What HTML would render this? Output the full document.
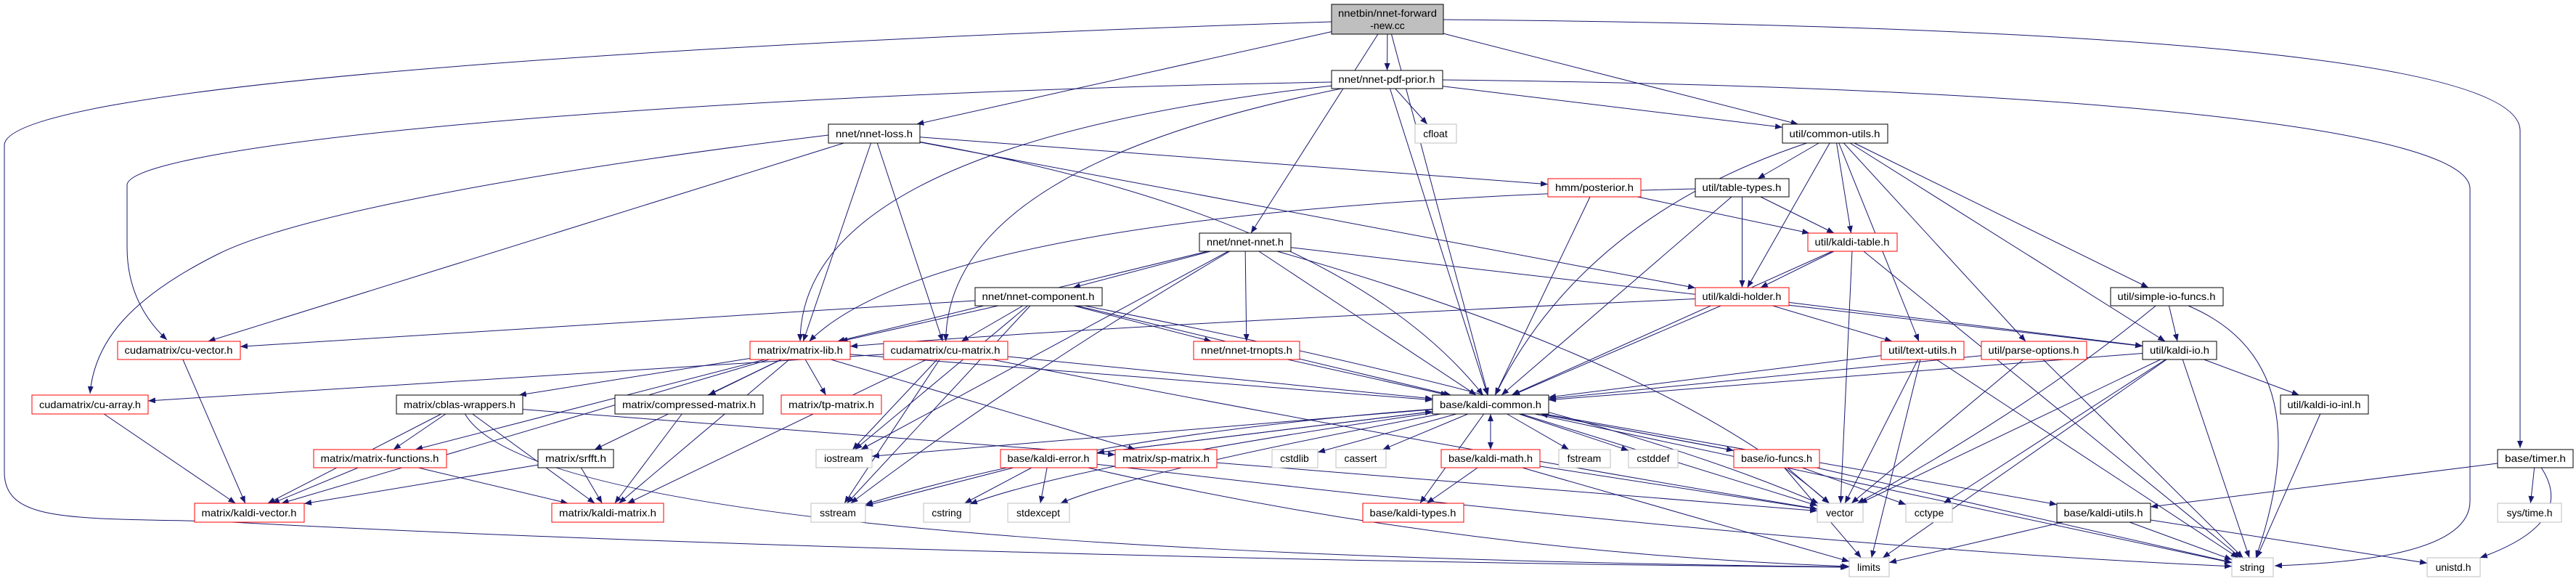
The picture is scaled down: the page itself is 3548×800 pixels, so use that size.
<!DOCTYPE html>
<html><head><meta charset="utf-8"><style>
html,body{margin:0;padding:0;background:#fff;width:3548px;height:800px;overflow:hidden}
svg text{font-family:"Liberation Sans",sans-serif;font-size:14px;fill:#000}
</style></head><body>
<svg id="g" width="3548" height="800" viewBox="0 0 3548 800" xmlns="http://www.w3.org/2000/svg">
<defs><marker id="ah" markerWidth="10" markerHeight="8" refX="10" refY="4" orient="auto" markerUnits="userSpaceOnUse"><path d="M0,0 L10,4 L0,8 z" fill="#191970"/></marker></defs>
<g id="edges" fill="none" stroke="#191970" stroke-width="1"></g>
<g id="nodes">
<rect x="1834" y="6" width="154" height="41" fill="#bfbfbf" stroke="#000"/><text x="1911" y="23" text-anchor="middle" textLength="136" lengthAdjust="spacingAndGlyphs">nnetbin/nnet-forward</text><text x="1911" y="40" text-anchor="middle">-new.cc</text>
<rect x="1834" y="97" width="153" height="25" fill="#fff" stroke="#000"/><text x="1910" y="114" text-anchor="middle" textLength="133" lengthAdjust="spacingAndGlyphs">nnet/nnet-pdf-prior.h</text>
<rect x="1141" y="171" width="126" height="26" fill="#fff" stroke="#000"/><text x="1204" y="189" text-anchor="middle" textLength="106" lengthAdjust="spacingAndGlyphs">nnet/nnet-loss.h</text>
<rect x="1949" y="171" width="57" height="26" fill="#fff" stroke="#bfbfbf"/><text x="1977" y="189" text-anchor="middle">cfloat</text>
<rect x="2455" y="171" width="145" height="26" fill="#fff" stroke="#000"/><text x="2527" y="189" text-anchor="middle" textLength="125" lengthAdjust="spacingAndGlyphs">util/common-utils.h</text>
<rect x="2132" y="246" width="128" height="25" fill="#fff" stroke="#f00"/><text x="2196" y="263" text-anchor="middle" textLength="108" lengthAdjust="spacingAndGlyphs">hmm/posterior.h</text>
<rect x="2335" y="246" width="129" height="25" fill="#fff" stroke="#000"/><text x="2399" y="263" text-anchor="middle" textLength="109" lengthAdjust="spacingAndGlyphs">util/table-types.h</text>
<rect x="1652" y="321" width="126" height="25" fill="#fff" stroke="#000"/><text x="1715" y="338" text-anchor="middle" textLength="106" lengthAdjust="spacingAndGlyphs">nnet/nnet-nnet.h</text>
<rect x="2490" y="321" width="123" height="25" fill="#fff" stroke="#f00"/><text x="2551" y="338" text-anchor="middle" textLength="103" lengthAdjust="spacingAndGlyphs">util/kaldi-table.h</text>
<rect x="1343" y="396" width="175" height="25" fill="#fff" stroke="#000"/><text x="1430" y="413" text-anchor="middle" textLength="155" lengthAdjust="spacingAndGlyphs">nnet/nnet-component.h</text>
<rect x="2335" y="396" width="129" height="25" fill="#fff" stroke="#f00"/><text x="2399" y="413" text-anchor="middle" textLength="109" lengthAdjust="spacingAndGlyphs">util/kaldi-holder.h</text>
<rect x="2907" y="396" width="155" height="25" fill="#fff" stroke="#000"/><text x="2984" y="413" text-anchor="middle" textLength="135" lengthAdjust="spacingAndGlyphs">util/simple-io-funcs.h</text>
<rect x="1033" y="470" width="138" height="25" fill="#fff" stroke="#f00"/><text x="1102" y="487" text-anchor="middle" textLength="118" lengthAdjust="spacingAndGlyphs">matrix/matrix-lib.h</text>
<rect x="162" y="470" width="169" height="25" fill="#fff" stroke="#f00"/><text x="246" y="487" text-anchor="middle" textLength="149" lengthAdjust="spacingAndGlyphs">cudamatrix/cu-vector.h</text>
<rect x="1217" y="470" width="171" height="25" fill="#fff" stroke="#f00"/><text x="1302" y="487" text-anchor="middle" textLength="151" lengthAdjust="spacingAndGlyphs">cudamatrix/cu-matrix.h</text>
<rect x="1644" y="470" width="146" height="25" fill="#fff" stroke="#f00"/><text x="1717" y="487" text-anchor="middle" textLength="126" lengthAdjust="spacingAndGlyphs">nnet/nnet-trnopts.h</text>
<rect x="2591" y="470" width="114" height="25" fill="#fff" stroke="#f00"/><text x="2648" y="487" text-anchor="middle" textLength="94" lengthAdjust="spacingAndGlyphs">util/text-utils.h</text>
<rect x="2729" y="470" width="145" height="25" fill="#fff" stroke="#f00"/><text x="2801" y="487" text-anchor="middle" textLength="125" lengthAdjust="spacingAndGlyphs">util/parse-options.h</text>
<rect x="2951" y="470" width="102" height="25" fill="#fff" stroke="#000"/><text x="3002" y="487" text-anchor="middle" textLength="82" lengthAdjust="spacingAndGlyphs">util/kaldi-io.h</text>
<rect x="44" y="544" width="160" height="26" fill="#fff" stroke="#f00"/><text x="124" y="562" text-anchor="middle" textLength="140" lengthAdjust="spacingAndGlyphs">cudamatrix/cu-array.h</text>
<rect x="546" y="544" width="174" height="26" fill="#fff" stroke="#000"/><text x="633" y="562" text-anchor="middle" textLength="154" lengthAdjust="spacingAndGlyphs">matrix/cblas-wrappers.h</text>
<rect x="847" y="544" width="204" height="26" fill="#fff" stroke="#000"/><text x="949" y="562" text-anchor="middle" textLength="184" lengthAdjust="spacingAndGlyphs">matrix/compressed-matrix.h</text>
<rect x="1076" y="544" width="138" height="26" fill="#fff" stroke="#f00"/><text x="1145" y="562" text-anchor="middle" textLength="118" lengthAdjust="spacingAndGlyphs">matrix/tp-matrix.h</text>
<rect x="1973" y="544" width="160" height="26" fill="#fff" stroke="#000"/><text x="2053" y="562" text-anchor="middle" textLength="140" lengthAdjust="spacingAndGlyphs">base/kaldi-common.h</text>
<rect x="3141" y="544" width="121" height="26" fill="#fff" stroke="#000"/><text x="3201" y="562" text-anchor="middle" textLength="101" lengthAdjust="spacingAndGlyphs">util/kaldi-io-inl.h</text>
<rect x="432" y="619" width="183" height="25" fill="#fff" stroke="#f00"/><text x="523" y="636" text-anchor="middle" textLength="163" lengthAdjust="spacingAndGlyphs">matrix/matrix-functions.h</text>
<rect x="741" y="619" width="104" height="25" fill="#fff" stroke="#000"/><text x="793" y="636" text-anchor="middle" textLength="84" lengthAdjust="spacingAndGlyphs">matrix/srfft.h</text>
<rect x="1124" y="619" width="77" height="25" fill="#fff" stroke="#bfbfbf"/><text x="1162" y="636" text-anchor="middle">iostream</text>
<rect x="1378" y="619" width="133" height="25" fill="#fff" stroke="#f00"/><text x="1444" y="636" text-anchor="middle" textLength="113" lengthAdjust="spacingAndGlyphs">base/kaldi-error.h</text>
<rect x="1536" y="619" width="140" height="25" fill="#fff" stroke="#f00"/><text x="1606" y="636" text-anchor="middle" textLength="120" lengthAdjust="spacingAndGlyphs">matrix/sp-matrix.h</text>
<rect x="1752" y="619" width="63" height="25" fill="#fff" stroke="#bfbfbf"/><text x="1783" y="636" text-anchor="middle">cstdlib</text>
<rect x="1840" y="619" width="69" height="25" fill="#fff" stroke="#bfbfbf"/><text x="1874" y="636" text-anchor="middle">cassert</text>
<rect x="1985" y="619" width="136" height="25" fill="#fff" stroke="#f00"/><text x="2053" y="636" text-anchor="middle" textLength="116" lengthAdjust="spacingAndGlyphs">base/kaldi-math.h</text>
<rect x="2147" y="619" width="71" height="25" fill="#fff" stroke="#bfbfbf"/><text x="2182" y="636" text-anchor="middle">fstream</text>
<rect x="2243" y="619" width="68" height="25" fill="#fff" stroke="#bfbfbf"/><text x="2277" y="636" text-anchor="middle">cstddef</text>
<rect x="2388" y="619" width="118" height="25" fill="#fff" stroke="#f00"/><text x="2447" y="636" text-anchor="middle" textLength="98" lengthAdjust="spacingAndGlyphs">base/io-funcs.h</text>
<rect x="3440" y="619" width="104" height="25" fill="#fff" stroke="#000"/><text x="3492" y="636" text-anchor="middle" textLength="84" lengthAdjust="spacingAndGlyphs">base/timer.h</text>
<rect x="268" y="693" width="151" height="26" fill="#fff" stroke="#f00"/><text x="343" y="711" text-anchor="middle" textLength="131" lengthAdjust="spacingAndGlyphs">matrix/kaldi-vector.h</text>
<rect x="760" y="693" width="154" height="26" fill="#fff" stroke="#f00"/><text x="837" y="711" text-anchor="middle" textLength="134" lengthAdjust="spacingAndGlyphs">matrix/kaldi-matrix.h</text>
<rect x="1117" y="693" width="75" height="26" fill="#fff" stroke="#bfbfbf"/><text x="1154" y="711" text-anchor="middle">sstream</text>
<rect x="1272" y="693" width="64" height="26" fill="#fff" stroke="#bfbfbf"/><text x="1304" y="711" text-anchor="middle">cstring</text>
<rect x="1388" y="693" width="85" height="26" fill="#fff" stroke="#bfbfbf"/><text x="1430" y="711" text-anchor="middle">stdexcept</text>
<rect x="1877" y="693" width="139" height="26" fill="#fff" stroke="#f00"/><text x="1946" y="711" text-anchor="middle" textLength="119" lengthAdjust="spacingAndGlyphs">base/kaldi-types.h</text>
<rect x="2503" y="693" width="63" height="26" fill="#fff" stroke="#bfbfbf"/><text x="2534" y="711" text-anchor="middle">vector</text>
<rect x="2625" y="693" width="64" height="26" fill="#fff" stroke="#bfbfbf"/><text x="2657" y="711" text-anchor="middle">cctype</text>
<rect x="2833" y="693" width="129" height="26" fill="#fff" stroke="#000"/><text x="2897" y="711" text-anchor="middle" textLength="109" lengthAdjust="spacingAndGlyphs">base/kaldi-utils.h</text>
<rect x="3440" y="693" width="88" height="26" fill="#fff" stroke="#bfbfbf"/><text x="3484" y="711" text-anchor="middle">sys/time.h</text>
<rect x="2547" y="768" width="55" height="26" fill="#fff" stroke="#bfbfbf"/><text x="2574" y="786" text-anchor="middle">limits</text>
<rect x="3074" y="768" width="57" height="26" fill="#fff" stroke="#bfbfbf"/><text x="3102" y="786" text-anchor="middle">string</text>
<rect x="3343" y="768" width="73" height="26" fill="#fff" stroke="#bfbfbf"/><text x="3379" y="786" text-anchor="middle">unistd.h</text>
</g>
</svg>
<script>
var N={nb:[1834,1988,6,47],pdf:[1834,1987,97,122],loss:[1141,1267,171,197],cfloat:[1949,2006,171,197],cu:[2455,2600,171,197],
post:[2132,2260,246,271],tt:[2335,2464,246,271],nnet:[1652,1778,321,346],kt:[2490,2613,321,346],comp:[1343,1518,396,421],
hold:[2335,2464,396,421],sio:[2907,3062,396,421],mlib:[1033,1171,470,495],cuvec:[162,331,470,495],cumat:[1217,1388,470,495],
trn:[1644,1790,470,495],text:[2591,2705,470,495],popt:[2729,2874,470,495],kio:[2951,3053,470,495],cuarr:[44,204,544,570],
cblas:[546,720,544,570],cmpr:[847,1051,544,570],tp:[1076,1214,544,570],kc:[1973,2133,544,570],kioinl:[3141,3262,544,570],
mfun:[432,615,619,644],srfft:[741,845,619,644],ios:[1124,1201,619,644],kerr:[1378,1511,619,644],sp:[1536,1676,619,644],
cstdlib:[1752,1815,619,644],cassert:[1840,1909,619,644],kmath:[1985,2121,619,644],fstream:[2147,2218,619,644],cstddef:[2243,2311,619,644],
iof:[2388,2506,619,644],timer:[3440,3544,619,644],kvec:[268,419,693,719],kmat:[760,914,693,719],sst:[1117,1192,693,719],
cstring:[1272,1336,693,719],stdexc:[1388,1473,693,719],ktypes:[1877,2016,693,719],vec:[2503,2566,693,719],cctype:[2625,2689,693,719],
kutils:[2833,2962,693,719],systime:[3440,3528,693,719],limits:[2547,2602,768,794],string:[3074,3131,768,794],unistd:[3343,3416,768,794]};
var E=[["nb","pdf"],["nb","loss"],["nb","nnet"],["nb","kc"],["nb","cu"],
["nb","timer","M1988,27 C2900,35 3471,80 3471,180 L3471,617"],
["nb","limits","M1834,30 C900,60 6,120 6,200 L6,650 C6,720 100,713 300,718 C900,750 1800,775 2545,781"],
["pdf","cfloat"],["pdf","cu"],
["pdf","string","M1987,110 C2900,120 3402,180 3402,260 L3402,690 C3402,760 3250,775 3133,779"],
["pdf","kc"],
["pdf","cuvec","M1834,113 C900,130 175,200 175,255 L175,340 C175,400 200,440 230,468"],
["pdf","mlib",[1103,200]],["pdf","cumat",[1305,230]],
["loss","cuarr","M1141,186 C700,240 400,300 300,350 C180,410 130,470 124,542"],["loss","cuvec"],["loss","cumat"],["loss","post"],["loss","hold"],["loss","kc",[1850,300]],["loss","mlib"],
["cu","tt"],["cu","kt"],["cu","hold"],["cu","kc",[2180,300]],["cu","text"],["cu","popt"],["cu","kio"],["cu","sio"],
["post","kt"],["post","kc"],["tt","kt"],["tt","hold"],["tt","kc"],["tt","mlib",[1300,285]],
["nnet","comp"],["nnet","mlib"],["nnet","trn"],["nnet","kc"],["nnet","ios"],["nnet","sst",[1400,520]],["nnet","kio"],["nnet","vec",[2300,500]],
["comp","cuvec"],["comp","mlib"],["comp","cumat"],["comp","trn"],["comp","kc"],["comp","ios"],["comp","sst"],["comp","vec",[2200,560]],
["kt","hold"],["kt","kc"],["kt","vec"],["kt","string"],["hold","mlib",[1500,450]],["hold","kio"],["hold","text"],["hold","kc"],
["sio","kio"],["sio","vec",[2800,560]],["sio","string",[3200,500]],
["mlib","kvec"],["mlib","kmat"],["mlib","cblas"],["mlib","mfun"],["mlib","srfft"],["mlib","cmpr"],["mlib","tp"],["mlib","sp"],["mlib","kc"],
["cuvec","kvec"],["cumat","cuarr"],["cumat","kmat"],["cumat","sst"],["cumat","ios"],["cumat","kc"],["cumat","vec",[1900,600]],["trn","kc"],
["text","kc"],["text","vec"],["text","limits"],["text","string"],["popt","kc"],["popt","vec"],["popt","string"],
["kio","kc"],["kio","kioinl"],["kio","cctype"],["kio","limits"],["kio","string"],["kio","vec"],
["cuarr","kvec"],["cblas","kvec"],["cblas","mfun"],["cblas","kmat"],["cblas","limits",[750,760]],["cblas","sp"],
["cmpr","kmat"],["mfun","kvec"],["mfun","kmat"],["srfft","kvec"],["srfft","kmat"],["sp","vec"],
["kc","ios"],["kc","cstdlib"],["kc","cassert"],["kc","kmath"],["kc","fstream"],["kc","cstddef"],["kc","iof"],["kc","kerr"],["kc","sst",[1500,600]],
["kc","cstring",[1480,640]],["kc","stdexc",[1560,650]],["kc","ktypes"],["kc","vec"],["kc","string"],["kc","kutils"],
["kerr","sst"],["kerr","cstring"],["kerr","stdexc"],["kerr","limits",[2000,760]],["kerr","string",[2500,755]],["kerr","kc"],
["kmath","kc"],["kmath","ktypes"],["kmath","vec"],["kmath","limits"],["iof","kc"],["iof","vec"],["iof","string"],["iof","cctype"],["iof","limits"],
["kutils","limits"],["kutils","string"],["kutils","unistd"],["kioinl","string"],["timer","kutils"],["timer","systime"],["timer","unistd",[3550,720]]];
function c(n){return [(n[0]+n[1])/2,(n[2]+n[3])/2];}
function clip(n,px,py){var cx=(n[0]+n[1])/2,cy=(n[2]+n[3])/2,dx=px-cx,dy=py-cy,hw=(n[1]-n[0])/2,hh=(n[3]-n[2])/2;
 if(dx==0&&dy==0)return [cx,cy];var t=Math.min(dx?hw/Math.abs(dx):1e9,dy?hh/Math.abs(dy):1e9);return [cx+dx*t,cy+dy*t];}
var g=document.getElementById("edges"),h="";
E.forEach(function(e){var a=N[e[0]],b=N[e[1]],ca=c(a),cb=c(b),v=e[2],d;
 if(typeof v=="string"){d=v;}
 else if(!v){var p=clip(a,cb[0],cb[1]),q=clip(b,ca[0],ca[1]);d="M"+p[0]+","+p[1]+" L"+q[0]+","+q[1];}
 else if(v.length==2){var p=clip(a,v[0],v[1]),q=clip(b,v[0],v[1]);d="M"+p[0]+","+p[1]+" Q"+v[0]+","+v[1]+" "+q[0]+","+q[1];}
 else{var p=clip(a,v[0],v[1]),q=clip(b,v[2],v[3]);d="M"+p[0]+","+p[1]+" C"+v[0]+","+v[1]+" "+v[2]+","+v[3]+" "+q[0]+","+q[1];}
 h+='<path d="'+d+'" marker-end="url(#ah)"/>';});
g.innerHTML=h;
</script>
</body></html>
